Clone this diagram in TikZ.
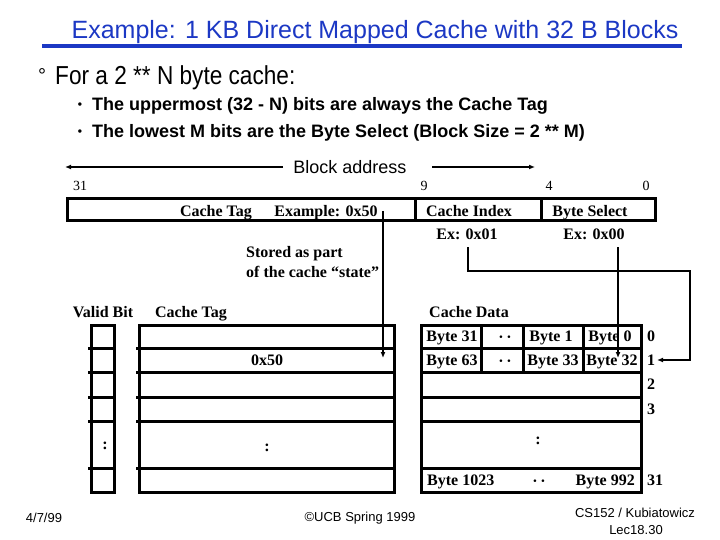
\documentclass[tikz,border=0pt]{standalone}
\usepackage{fontspec}
\setmainfont{Liberation Serif}
\newfontfamily\arialf{Liberation Sans}
\newfontfamily\arialn[FakeStretch=0.87]{Liberation Sans}
\usetikzlibrary{arrows.meta}
\definecolor{titleblue}{RGB}{28,56,196}
\tikzset{
  title/.style={font=\arialf\fontsize{25}{28}\selectfont, text=titleblue, inner sep=0},
  lead/.style={font=\arialn\fontsize{26}{28}\selectfont, inner sep=0, anchor=west},
  bul/.style={font=\arialf\bfseries\fontsize{18}{21}\selectfont, inner sep=0, anchor=west},
  lbl/.style={font=\bfseries\fontsize{16}{18}\selectfont, inner sep=0, text height=12pt, text depth=2pt},
  num/.style={font=\fontsize{14}{16}\selectfont, inner sep=0, text height=10pt, text depth=0pt},
  foot/.style={font=\arialf\fontsize{13}{15}\selectfont, inner sep=0},
  heavy/.style={line width=3pt},
  arr/.style={line width=2.5pt, -{Latex[length=6pt,width=5pt]}},
  thinarr/.style={line width=1.5pt, -{Latex[length=6pt,width=5pt]}}
}
\begin{document}
\begin{tikzpicture}[x=1pt,y=-1pt]
\useasboundingbox (0,0) rectangle (720,540);
% title
\node[title] (title) at (375,32) {Example: 1 KB Direct Mapped Cache with 32 B Blocks};
\fill[titleblue] (42,44) rectangle (682,48);
% lead text
\node[font=\arialf\fontsize{20}{20}\selectfont, inner sep=0] (deg) at (42,76) {°};
\node[lead] (lead) at (55,78) {For a 2 ** N byte cache:};
\node[font=\arialf\bfseries\fontsize{12}{12}\selectfont, inner sep=0] (b1) at (80,106) {•};
\node[bul] (t1) at (92,106) {The uppermost (32 - N) bits are always the Cache Tag};
\node[font=\arialf\bfseries\fontsize{12}{12}\selectfont, inner sep=0] (b2) at (80,133) {•};
\node[bul] (t2) at (92,133) {The lowest M bits are the Byte Select (Block Size = 2 ** M)};
% block address
\node[font=\arialf\fontsize{18}{20}\selectfont, inner sep=0] (ba) at (350,167) {Block address};
\coordinate (bal) at (283,167);
\coordinate (bar) at (432,167);
\coordinate (balend) at (65,167);
\coordinate (barend) at (535,167);
\draw[thinarr] (bal) -- (balend);
\draw[thinarr] (bar) -- (barend);
% bit numbers
\node[num] (n31) at (80,186) {31};
\node[num] (n9) at (424,186) {9};
\node[num] (n4) at (549,186) {4};
\node[num] (n0) at (646,186) {0};
% address box
\draw[heavy] (67,199) rectangle (655,221);
\draw[heavy] (415,199) -- (415,221);
\draw[heavy] (541,199) -- (541,221);
\node[lbl] (ct) at (216,211) {Cache Tag};
\node[lbl] (ex50) at (326,211) {Example: 0x50};
\node[lbl] (ci) at (469,211) {Cache Index};
\node[lbl] (bs) at (590,211) {Byte Select};
\node[lbl] (ex01) at (467,235) {Ex: 0x01};
\node[lbl] (ex00) at (594,235) {Ex: 0x00};
\node[lbl, anchor=west] (st1) at (246,252) {Stored as part};
\node[lbl, anchor=west] (st2) at (246,272) {of the cache “state”};
% column headers
\node[lbl] (hv) at (103,312) {Valid Bit};
\node[lbl] (ht) at (191,312) {Cache Tag};
\node[lbl] (hd) at (469,312) {Cache Data};
% valid column
\draw[heavy] (91,325) rectangle (114,492);
\foreach \y in {348,372,397,421,468} \draw[heavy] (88,\y) -- (114,\y);
% tag column
\draw[heavy] (139,325) rectangle (394,492);
\foreach \y in {348,372,397,421,468} \draw[heavy] (136,\y) -- (394,\y);
% data column
\draw[heavy] (421,325) rectangle (641,492);
\foreach \y in {348,372,397,421,468} \draw[heavy] (421,\y) -- (641,\y);
\foreach \x in {481,523,583} \draw[heavy] (\x,325) -- (\x,372);
% data texts
\node[lbl] (d31) at (452,336) {Byte 31};
\node[lbl] (dd0) at (505,337) {·\,·};
\node[lbl] (d1) at (551,336) {Byte 1};
\node[lbl] (d0) at (610,336) {Byte 0};
\node[lbl] (d63) at (452,360) {Byte 63};
\node[lbl] (dd1) at (505,361) {·\,·};
\node[lbl] (d33) at (553,360) {Byte 33};
\node[lbl] (d32) at (612,360) {Byte 32};
\node[lbl, anchor=west] (d1023) at (427,480) {Byte 1023};
\node[lbl] (dd2) at (539,481) {·\,·};
\node[lbl, anchor=east] (d992) at (635,480) {Byte 992};
\node[lbl] (tag50) at (267,360) {0x50};
\node[lbl] (cv) at (105,444) {:};
\node[lbl] (cg) at (267,446) {:};
\node[lbl] (cd) at (538,439) {:};
% row numbers
\node[lbl, anchor=west] (r0) at (647,336) {0};
\node[lbl, anchor=west] (r1) at (647,360) {1};
\node[lbl, anchor=west] (r2) at (647,384) {2};
\node[lbl, anchor=west] (r3) at (647,409) {3};
\node[lbl, anchor=west] (r31) at (647,480) {31};
% connectors
\coordinate (tagsrc) at (383,211);
\coordinate (tagdst) at (383,358);
\draw[arr] (tagsrc) -- (tagdst);
\coordinate (idxsrc) at (468,247);
\coordinate (idxdst) at (657,360);
\draw[arr] (idxsrc) |- (690,271) |- (idxdst);
\coordinate (bssrc) at (618,247);
\coordinate (bsdst) at (618,358);
\draw[arr] (bssrc) -- (bsdst);
% footer
\node[foot] (f1) at (44,518) {4/7/99};
\node[foot] (f2) at (360,518) {©UCB Spring 1999};
\node[foot] (f3) at (635,513) {CS152 / Kubiatowicz};
\node[foot] (f4) at (636,530) {Lec18.30};
\end{tikzpicture}
\end{document}
